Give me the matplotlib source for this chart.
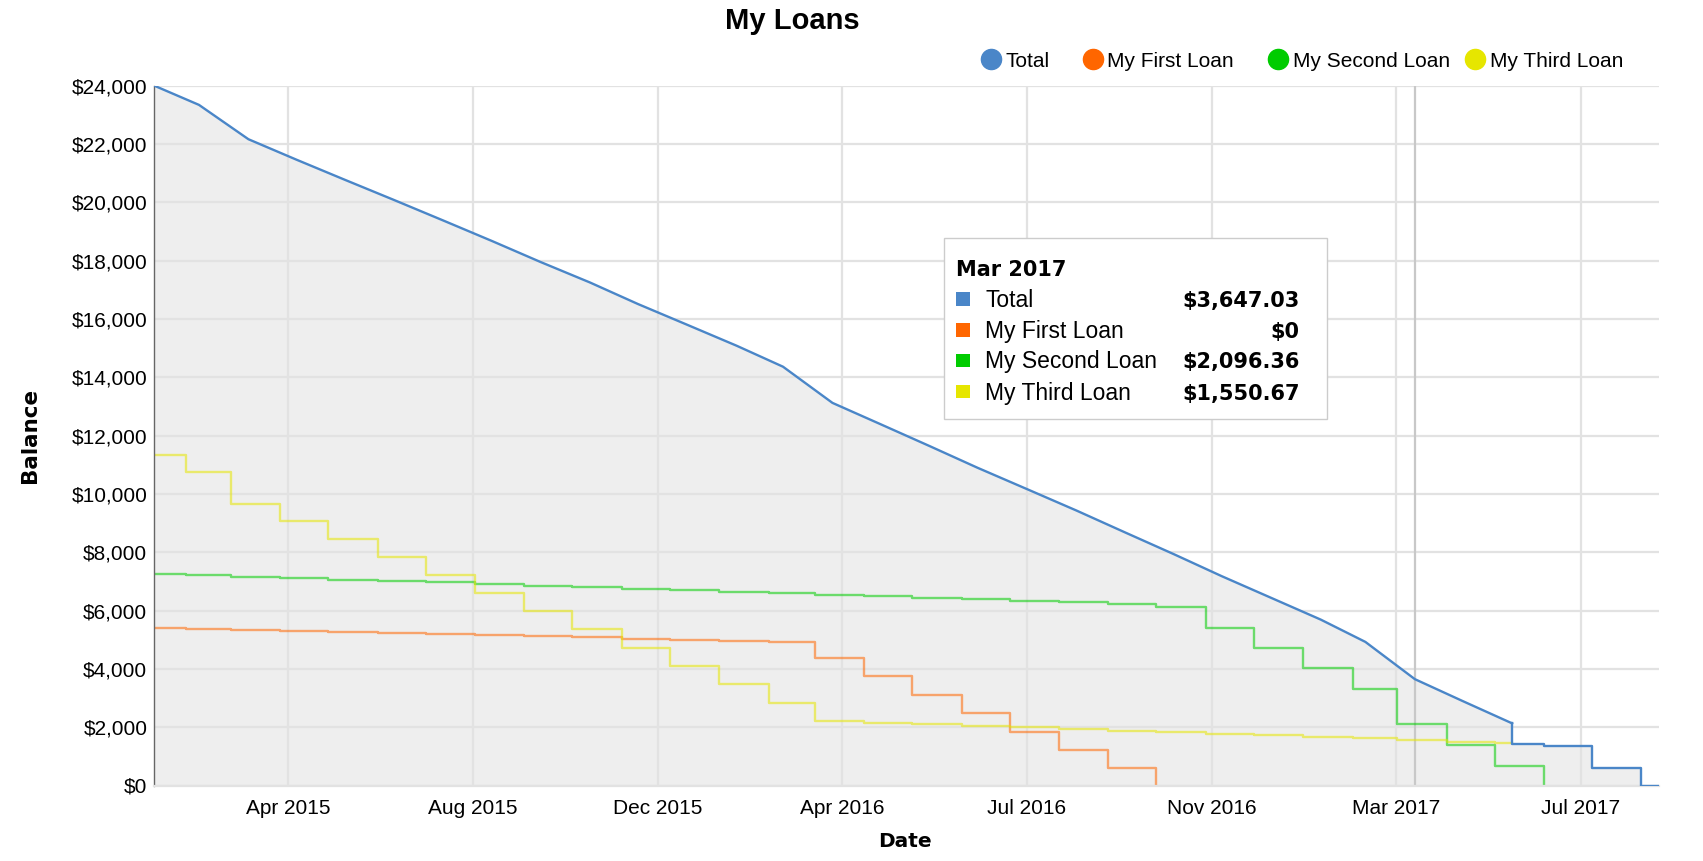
import matplotlib
matplotlib.use('Agg')
import matplotlib.pyplot as plt
import matplotlib.dates as mdates
from matplotlib.lines import Line2D
from matplotlib.patches import Rectangle
from matplotlib.ticker import FuncFormatter
import pandas as pd

plt.rcParams['font.family'] = ['Liberation Sans', 'DejaVu Sans']

# month-start dates for the total, payments land on the 21st
start = pd.Timestamp('2015-02-01')
end = pd.Timestamp('2017-09-01')
month_starts = pd.date_range('2015-02-01', '2017-06-01', freq='MS')
pay_dates = pd.date_range('2015-02-01', '2017-08-01', freq='MS') + pd.Timedelta(days=20)

# balances: opening value, then the balance after each monthly payment
first_loan = [5400, 5370, 5342, 5300, 5265, 5240, 5205, 5171, 5130, 5091, 5040,
              5000, 4965, 4925, 4370, 3741, 3100, 2471, 1842, 1213, 586, 0]
second_loan = [7250, 7207, 7155, 7105, 7052, 7010, 6967, 6905, 6853, 6807, 6750,
               6704, 6650, 6601, 6544, 6498, 6441, 6384, 6326, 6278, 6223, 6109,
               5400, 4702, 4015, 3306, 2096.36, 1390, 680, 0]
third_loan = [11350, 10765, 9667, 9060, 8443, 7836, 7207, 6589, 5972, 5354, 4725,
              4096, 3466, 2837, 2208, 2155, 2097, 2040, 1995, 1937, 1880, 1823,
              1778, 1732, 1675, 1618, 1550.67, 1505, 1450]

# blue tail after June 2017
tail_dates = [pd.Timestamp('2017-06-01'), pd.Timestamp('2017-06-21'),
              pd.Timestamp('2017-07-21'), pd.Timestamp('2017-08-21'), end]
tail_values = [1440, 1355, 610, 0, 0]

tick_ms = [1.43e12, 1.44e12, 1.45e12, 1.46e12, 1.47e12, 1.48e12, 1.49e12, 1.50e12]
hover_index = 26  # "Mar 2017" point shown in the tooltip

blue = '#4a86c8'
orange = '#ff6600'
green = '#00cc00'
yellow = '#e6e600'


def balance(series, k):
    return series[k] if k < len(series) else 0


total = [balance(first_loan, k) + balance(second_loan, k) + balance(third_loan, k)
         for k in range(len(month_starts))]

W, H = 1703, 861
fig = plt.figure(figsize=(W / 100, H / 100), dpi=100)
ax = fig.add_axes([154.3 / W, 1 - 785.5 / H, (1659 - 154.3) / W, (785.5 - 85.7) / H])

# grey area under the total
ax.fill_between(month_starts, total, color='#eeeeee', zorder=0.3, lw=0)
tail_x = [month_starts[-1]] + tail_dates
tail_y = [total[-1]] + tail_values
ax.fill_between(tail_x[1:], tail_y[1:], step='post', color='#eeeeee', zorder=0.3, lw=0)

ax.axvline(month_starts[hover_index], color='#c8c8c8', lw=1.6, zorder=0.8)

# loan step lines
first_x = [start] + list(pay_dates[:len(first_loan) - 1])
second_x = [start] + list(pay_dates[:len(second_loan) - 1])
third_x = [start] + list(pay_dates[:len(third_loan) - 1]) + [month_starts[-1]]
ax.step(first_x, first_loan, where='post', color=orange, alpha=0.55, lw=1.7, zorder=2)
ax.step(second_x, second_loan, where='post', color=green, alpha=0.55, lw=1.7, zorder=2)
ax.step(third_x, third_loan + [third_loan[-1]], where='post', color=yellow, alpha=0.55,
        lw=1.7, zorder=2.1)

# total line
ax.plot(month_starts, total, color=blue, lw=1.7, zorder=3)
ax.step(tail_x, tail_y, where='post', color=blue, lw=1.7, zorder=3)

ax.set_xlim(start, end)
ax.set_ylim(0, 24000)
ax.set_yticks(range(0, 24001, 2000))
ax.yaxis.set_major_formatter(FuncFormatter(lambda v, p: '${:,.0f}'.format(v)))
ax.set_xticks(pd.to_datetime(tick_ms, unit='ms'))
ax.xaxis.set_major_formatter(mdates.DateFormatter('%b %Y'))
ax.tick_params(length=0, labelsize=15)
ax.tick_params(axis='x', pad=10)
ax.tick_params(axis='y', pad=5)

ax.set_axisbelow(True)
ax.grid(True, color='#e2e2e2', lw=1.6)
for s in ['top', 'right']:
    ax.spines[s].set_visible(False)
ax.spines['left'].set_color('#666666')
ax.spines['left'].set_linewidth(1)
ax.spines['bottom'].set_color('#e2e2e2')
ax.spines['bottom'].set_linewidth(1.6)

# title and axis labels
fig.text(792 / W, 1 - 29.3 / H, 'My Loans', ha='center', va='baseline',
         fontsize=21, fontweight='bold')
fig.text(905 / W, 1 - 847.3 / H, 'Date', ha='center', va='baseline',
         fontsize=14.5, fontweight='bold', family='DejaVu Sans')
fig.text(30 / W, 1 - 435.8 / H, 'Balance', ha='center', va='center', rotation=90,
         fontsize=15.5, fontweight='bold', family='DejaVu Sans')

# legend along the top
legend_names = ['Total', 'My First Loan', 'My Second Loan', 'My Third Loan']
legend_colors = [blue, orange, green, yellow]
dot_x = [990.6, 1092.7, 1278.3, 1475.0]
for name, c, x in zip(legend_names, legend_colors, dot_x):
    fig.add_artist(Line2D([x / W], [1 - 59.3 / H], marker='o', markersize=14.5,
                          color=c, lw=0, transform=fig.transFigure))
    fig.text((x + 14.5) / W, 1 - 66.7 / H, name, ha='left', va='baseline', fontsize=15)

# tooltip
box_l, box_r, box_t, box_b = 943.7, 1327.4, 238.3, 419.3
fig.add_artist(Rectangle((box_l / W, 1 - box_b / H), (box_r - box_l) / W,
                         (box_b - box_t) / H, transform=fig.transFigure,
                         facecolor='white', edgecolor='#cccccc', lw=1))
fig.text(956.3 / W, 1 - 276 / H, month_starts[hover_index - 1].strftime('%b %Y'),
         ha='left', va='baseline', fontsize=15, fontweight='bold', family='DejaVu Sans')
tip_values = [total[hover_index], balance(first_loan, hover_index),
              balance(second_loan, hover_index), balance(third_loan, hover_index)]
row_base = [307, 338, 368.5, 399.5]
for name, c, v, yb in zip(legend_names, legend_colors, tip_values, row_base):
    fig.add_artist(Rectangle((956.3 / W, 1 - (yb - 1.5) / H), 13.6 / W, 13.4 / H,
                             transform=fig.transFigure, facecolor=c, lw=0))
    fig.text(985.1 / W, 1 - yb / H, name, ha='left', va='baseline', fontsize=16.5)
    label = '$0' if v == 0 else '${:,.2f}'.format(v)
    fig.text(1299.6 / W, 1 - yb / H, label, ha='right', va='baseline',
             fontsize=15, fontweight='bold', family='DejaVu Sans')

fig.savefig('out.png', dpi=100)
